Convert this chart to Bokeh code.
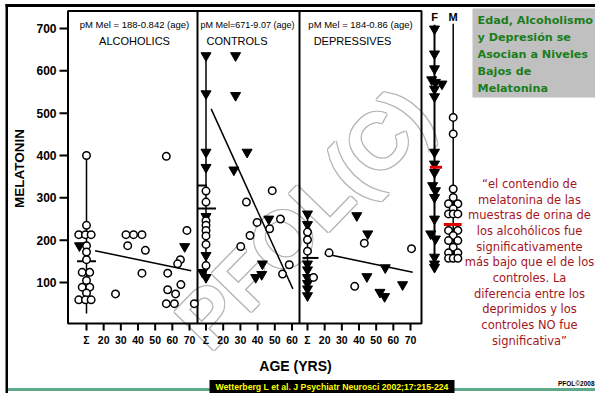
from bokeh.plotting import figure
from bokeh.models import Range1d
from bokeh.core.properties import value
from bokeh.embed import file_html
from bokeh.resources import INLINE

# ---------------- data ----------------
mel_ticks = [100, 200, 300, 400, 500, 600, 700]
mel_tick_labels = ["100", "200", "300", "400", "500", "600", "700"]

age_ticks_70 = [10, 20, 30, 40, 50, 60, 70]          # 10 = summary column "Σ"
age_labels_70 = ["Σ", "20", "30", "40", "50", "60", "70"]
age_ticks_60 = [10, 20, 30, 40, 50, 60]
age_labels_60 = ["Σ", "20", "30", "40", "50", "60"]

# Alcoholics
alc_sum_circ_age = [10, 10, 5.5, 9.4, 12.7, 10, 10, 10, 7.5, 11.9, 10, 7.5, 11.9, 10, 5.5, 9.4, 12.7]
alc_sum_circ_mel = [400, 235, 213, 213, 213, 187, 172, 154, 124, 124, 105, 89, 89, 75, 59, 59, 59]
alc_sum_tri_age = [5.9]
alc_sum_tri_mel = [187]
alc_sum_range = [400, 27]
alc_sum_mean = [150]
alc_circ_age = [26.9, 33, 37.4, 42.3, 34, 44.3, 42.3, 56.5, 57.3, 68.5, 64.7, 63.1, 57.3, 61.9, 65, 56.5, 61.2, 72.8]
alc_circ_mel = [73, 213, 213, 213, 187, 176, 122, 398, 122, 223, 154, 144, 83, 73, 95, 50, 50, 50]
alc_tri_age = [67.2]
alc_tri_mel = [185]
alc_fit_age = [15, 71]
alc_fit_mel = [175, 128]

# Controls
ctl_sum_tri_age = [10, 10, 10, 10, 10, 10, 8, 10]
ctl_sum_tri_mel = [636, 546, 408, 372, 256, 164, 124, 112]
ctl_sum_circ_age = [10, 10, 10, 10, 10, 10, 10, 10]
ctl_sum_circ_mel = [316, 290, 246, 235, 223, 210, 190, 140]
ctl_sum_range = [636, 109]
ctl_sum_mean = [275]
ctl_sum_upper = [329]
ctl_tri_age = [27.2, 27.2, 33.9, 26.2, 46.5, 42.8, 42.4, 38.9]
ctl_tri_mel = [636, 542, 408, 366, 250, 144, 119, 112]
ctl_circ_age = [48.5, 33.5, 39.7, 53.3, 47, 35.6, 30.2, 58.4, 54.5]
ctl_circ_mel = [317, 290, 242, 250, 227, 211, 185, 142, 120]
ctl_fit_age = [13, 60.5]
ctl_fit_mel = [510, 85]

# Depressives
dep_sum_tri_age = [10, 10, 10, 10, 10, 10, 10, 10]
dep_sum_tri_mel = [262, 237, 144, 130, 112, 98, 85, 69]
dep_sum_circ_age = [10, 10, 10, 13.5]
dep_sum_circ_mel = [219, 201, 174, 112]
dep_sum_range = [262, 69]
dep_sum_mean = [158]
dep_circ_age = [22.6, 43.1, 70.6, 37.5]
dep_circ_mel = [170, 193, 180, 91]
dep_tri_age = [38.7, 45.1, 55.3, 44.6, 65.4, 52.2, 54.9]
dep_tri_mel = [258, 215, 135, 114, 95, 77, 67]
dep_fit_age = [20, 71.3]
dep_fit_mel = [168, 124]

# Female / male columns (0 = F, 1 = M)
f_tri_pos = [0, 0, 0, -0.15, 0.05, 0.4, 0, 0, 0, 0, 0, -0.1, 0.05, 0, 0, -0.2, 0.05, 0, 0, 0]
f_tri_mel = [699, 640, 605, 579, 573, 569, 557, 539, 408, 380, 360, 329, 317, 301, 250, 215, 203, 160, 144, 136]
f_range = [709, 136]
f_mean = [372]
m_circ_pos = [1, 1, 1, 1, 0.75, 1.25, 1, 0.75, 1, 1.25, 0.75, 1.25, 1, 0.75, 1.25, 1, 0.75, 1.25, 0.75, 1, 1.25]
m_circ_mel = [490, 451, 321, 301, 286, 286, 274, 262, 262, 262, 223, 223, 211, 199, 199, 183, 170, 170, 157, 157, 157]
m_range = [711, 155]
m_mean = [237]

title_lines = ["Edad, Alcoholismo", "y Depresión se", "Asocian a Niveles", "Bajos de", "Melatonina"]
quote_lines = ["“el contendio de", "melatonina de las", "muestras de orina de", "los alcohólicos fue",
               "significativamente", "más bajo que el de los", "controles. La", "diferencia entre los",
               "deprimidos y los", "controles NO fue", "significativa”"]
citation = "Wetterberg L et al. J Psychiatr Neurosci 2002;17:215-224"

# ---------------- figure: a canvas in reference pixels ----------------
W, H = 595, 393
p = figure(width=W, height=H, x_range=Range1d(0, W), y_range=Range1d(H, 0),
           output_backend="svg", toolbar_location=None, x_axis_type=None, y_axis_type=None,
           min_border=0)
p.outline_line_color = None
p.background_fill_color = "white"
p.border_fill_color = "white"


def lin_range(pa, va, pb, vb, lo, hi):
    s = (vb - va) / (pb - pa)
    return Range1d(va + (lo - pa) * s, va + (hi - pa) * s)


p.extra_y_ranges = {"mel": lin_range(282, 100, 28, 700, H, 0)}
p.extra_x_ranges = {
    "alc": lin_range(86, 10, 189, 70, 0, W),
    "ctl": lin_range(205.5, 10, 291.5, 60, 0, W),
    "dep": lin_range(307, 10, 410, 70, 0, W),
    "fm": lin_range(434, 0, 452.7, 1, 0, W),
}

LS = value("Liberation Sans")


def txt(x, y, s, size, color="black", font="Liberation Sans", style="normal",
        align="center", baseline="middle", angle=0, **kw):
    p.text(x=[x], y=[y], text=[s], text_font=value(font), text_font_size=f"{size}px",
           text_font_style=style, text_color=color, text_align=align,
           text_baseline=baseline, angle=angle, **kw)


# watermark (outlined look)
for dx, dy in [(-1, -1), (1, -1), (-1, 1), (1, 1)]:
    txt(303, 218, "PFOL(C)", 80, color="#b4b4b4", style="bold", angle=0.8,
        x_offset=dx, y_offset=dy)
txt(303, 218, "PFOL(C)", 80, color="white", style="bold", angle=0.8)

# page frame lines
p.quad(left=5, right=W, top=3.5, bottom=6.5, fill_color="black", line_color=None)
p.quad(left=5, right=7.5, top=3.5, bottom=H, fill_color="black", line_color=None)

# panels
p.quad(left=67.5, right=421, top=10.5, bottom=323, fill_color=None, line_color="black", line_width=2)
p.segment(x0=[197, 299], y0=[10.5, 10.5], x1=[197, 299], y1=[323, 323], line_color="black", line_width=2)

# y axis
p.segment(x0=[59] * 7, y0=mel_ticks, x1=[67.5] * 7, y1=mel_ticks, y_range_name="mel",
          line_color="black", line_width=2)
p.text(x=[56] * 7, y=mel_ticks, text=mel_tick_labels, y_range_name="mel", text_font=LS,
       text_font_size="12px", text_font_style="bold", text_align="right", text_baseline="middle")
txt(19, 168, "MELATONIN", 13.5, style="bold", angle=1.5708)

# x axes for each panel
for rn, ticks, labels in [("alc", age_ticks_70, age_labels_70), ("ctl", age_ticks_60, age_labels_60),
                          ("dep", age_ticks_70, age_labels_70)]:
    n = len(ticks)
    p.segment(x0=ticks, y0=[323] * n, x1=ticks, y1=[330] * n, x_range_name=rn,
              line_color="black", line_width=2)
    p.text(x=ticks, y=[339.5] * n, text=labels, x_range_name=rn, text_font=LS,
           text_font_size="10.5px", text_font_style="bold", text_align="center",
           text_baseline="middle")
txt(295, 365, "AGE (YRS)", 14, style="bold")

# panel headers
txt(134, 24, "pM Mel = 188-0.842 (age)", 9.5)
txt(134, 40, "ALCOHOLICS", 11)
txt(247, 24, "pM Mel=671-9.07 (age)", 9)
txt(236.5, 40, "CONTROLS", 11)
txt(360, 24, "pM Mel = 184-0.86 (age)", 9.5)
txt(352, 40, "DEPRESSIVES", 11)
txt(434, 16, "F", 11, style="bold")
txt(452.7, 16, "M", 11, style="bold")


def circles(xs, ys, rn):
    p.scatter(xs, ys, marker="circle", size=7.5, fill_color="white", line_color="black",
              line_width=1.5, x_range_name=rn, y_range_name="mel")


def tris(xs, ys, rn):
    p.scatter(xs, ys, marker="inverted_triangle", size=10, fill_color="black",
              line_color="black", line_width=1, x_range_name=rn, y_range_name="mel")


def vline(pos, rng, rn, color="black", w=1.5):
    p.segment(x0=[pos], y0=[rng[0]], x1=[pos], y1=[rng[1]], x_range_name=rn,
              y_range_name="mel", line_color=color, line_width=w)


def hline(a, b, v, rn, color="black", w=2):
    p.segment(x0=[a], y0=v, x1=[b], y1=v, x_range_name=rn, y_range_name="mel",
              line_color=color, line_width=w)


# alcoholics
vline(10, alc_sum_range, "alc")
hline(4.5, 15.5, alc_sum_mean, "alc")
p.line(alc_fit_age, alc_fit_mel, x_range_name="alc", y_range_name="mel", line_color="black", line_width=1.5)
circles(alc_sum_circ_age, alc_sum_circ_mel, "alc")
tris(alc_sum_tri_age, alc_sum_tri_mel, "alc")
circles(alc_circ_age, alc_circ_mel, "alc")
tris(alc_tri_age, alc_tri_mel, "alc")

# controls
vline(10, ctl_sum_range, "ctl")
hline(5.3, 15.8, ctl_sum_mean, "ctl")
hline(5.3, 10.5, ctl_sum_upper, "ctl")
p.line(ctl_fit_age, ctl_fit_mel, x_range_name="ctl", y_range_name="mel", line_color="black", line_width=1.5)
tris(ctl_sum_tri_age, ctl_sum_tri_mel, "ctl")
circles(ctl_sum_circ_age, ctl_sum_circ_mel, "ctl")
tris(ctl_tri_age, ctl_tri_mel, "ctl")
circles(ctl_circ_age, ctl_circ_mel, "ctl")

# depressives
vline(10, dep_sum_range, "dep")
hline(7.1, 16.4, dep_sum_mean, "dep")
p.line(dep_fit_age, dep_fit_mel, x_range_name="dep", y_range_name="mel", line_color="black", line_width=1.5)
tris(dep_sum_tri_age, dep_sum_tri_mel, "dep")
circles(dep_sum_circ_age, dep_sum_circ_mel, "dep")
circles(dep_circ_age, dep_circ_mel, "dep")
tris(dep_tri_age, dep_tri_mel, "dep")

# F / M columns
vline(0, f_range, "fm", w=2)
vline(1, m_range, "fm", w=1.5)
tris(f_tri_pos, f_tri_mel, "fm")
circles(m_circ_pos, m_circ_mel, "fm")
hline(-0.25, 0.4, f_mean, "fm", color="#e00000", w=3)
hline(0.5, 1.45, m_mean, "fm", color="#e00000", w=3)

# right-hand text
p.quad(left=472, right=W, top=8, bottom=97, fill_color="#c0c0c0", line_color=None)
for i, s in enumerate(title_lines):
    txt(477, 20 + i * 17, s, 11.2, color="#1b7d1b", font="DejaVu Sans", style="bold", align="left")
for i, s in enumerate(quote_lines):
    txt(529, 183.5 + i * 15.65, s, 11.5, color="#a5151c", font="DejaVu Sans")

# bottom band
p.segment(x0=[7.5], y0=[389], x1=[W], y1=[389], line_color="#5fa88a", line_width=3)
p.quad(left=209, right=454, top=379.5, bottom=H, fill_color="black", line_color=None)
txt(331.5, 386.5, citation, 8.7, color="#ffff00", style="bold")
txt(594, 383, "PFOL©2008", 6.5, style="bold", align="right")

open("out.html", "w").write(file_html(p, INLINE))
